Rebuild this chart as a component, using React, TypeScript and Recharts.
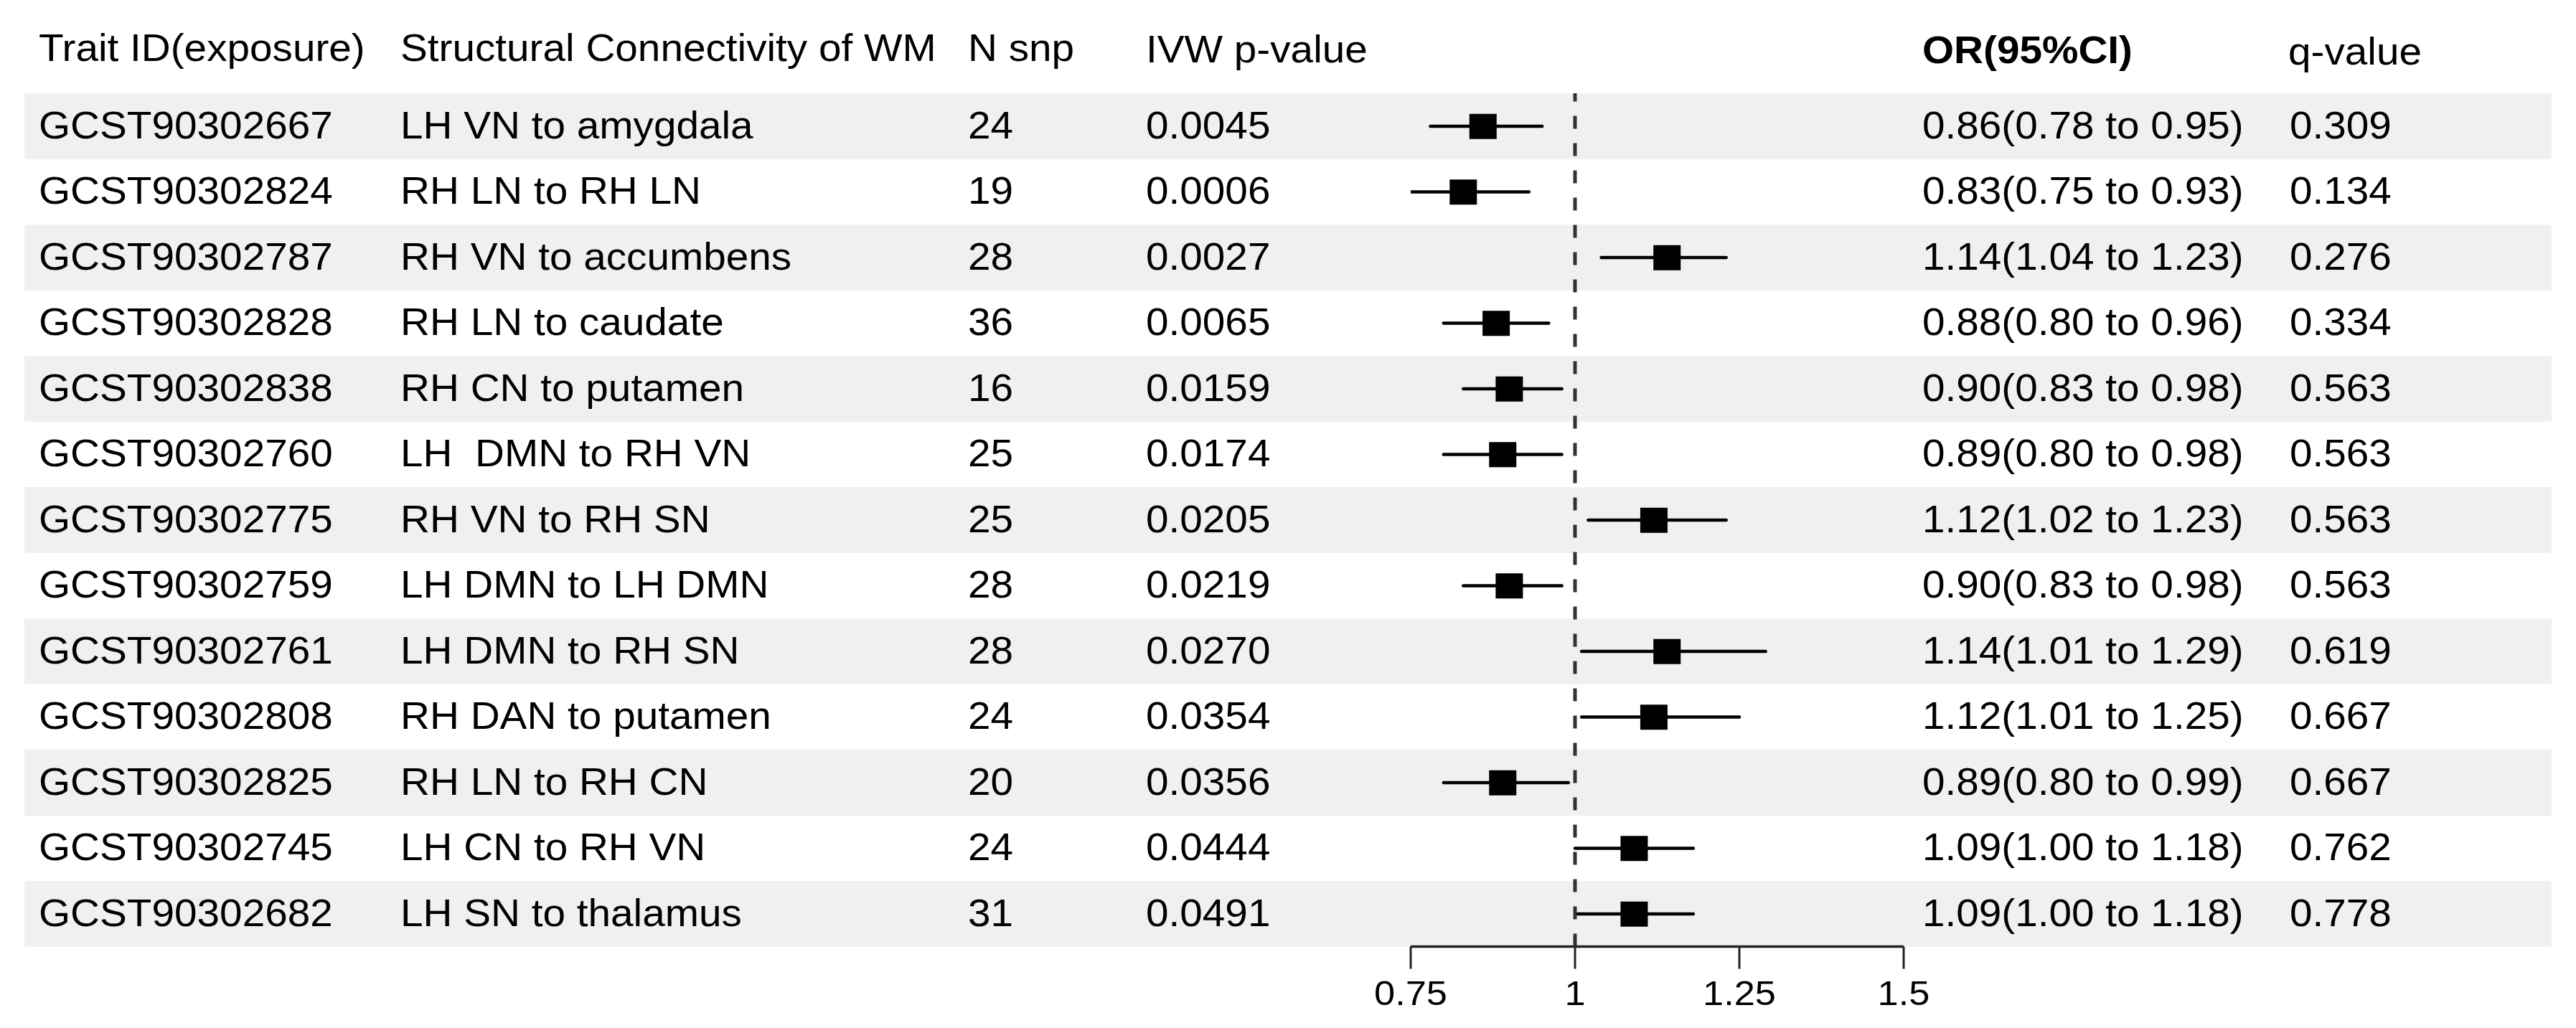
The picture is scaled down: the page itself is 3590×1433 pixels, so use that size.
import { ComposedChart, Bar, Scatter, XAxis, YAxis, ReferenceLine } from "recharts"

const traitIds = [
  "GCST90302667", "GCST90302824", "GCST90302787", "GCST90302828", "GCST90302838",
  "GCST90302760", "GCST90302775", "GCST90302759", "GCST90302761", "GCST90302808",
  "GCST90302825", "GCST90302745", "GCST90302682",
]
const connections = [
  "LH VN to amygdala", "RH LN to RH LN", "RH VN to accumbens", "RH LN to caudate",
  "RH CN to putamen", "LH  DMN to RH VN", "RH VN to RH SN", "LH DMN to LH DMN",
  "LH DMN to RH SN", "RH DAN to putamen", "RH LN to RH CN", "LH CN to RH VN",
  "LH SN to thalamus",
]
const nSnp = [24, 19, 28, 36, 16, 25, 25, 28, 28, 24, 20, 24, 31]
const ivwP = ["0.0045", "0.0006", "0.0027", "0.0065", "0.0159", "0.0174", "0.0205", "0.0219", "0.0270", "0.0354", "0.0356", "0.0444", "0.0491"]
const orValues = [0.86, 0.83, 1.14, 0.88, 0.9, 0.89, 1.12, 0.9, 1.14, 1.12, 0.89, 1.09, 1.09]
const ciLower = [0.78, 0.75, 1.04, 0.8, 0.83, 0.8, 1.02, 0.83, 1.01, 1.01, 0.8, 1.0, 1.0]
const ciUpper = [0.95, 0.93, 1.23, 0.96, 0.98, 0.98, 1.23, 0.98, 1.29, 1.25, 0.99, 1.18, 1.18]
const qValues = ["0.309", "0.134", "0.276", "0.334", "0.563", "0.563", "0.563", "0.563", "0.619", "0.667", "0.667", "0.762", "0.778"]
const xTicks = [0.75, 1, 1.25, 1.5]

const data = traitIds.map((id, i) => ({
  id,
  name: connections[i],
  n: nSnp[i],
  p: ivwP[i],
  or: orValues[i],
  ci: [ciLower[i], ciUpper[i]],
  q: qValues[i],
  label: `${orValues[i].toFixed(2)}(${ciLower[i].toFixed(2)} to ${ciUpper[i].toFixed(2)})`,
}))

// page layout
const W = 3590
const H = 1433
const PLOT_LEFT = 1966
const PLOT_RIGHT = 2653
const TOP = 130
const ROW_H = 91.5
const PLOT_BOTTOM = TOP + ROW_H * data.length
const Y_AXIS_W = 10
const SX = 1.07
const FONT = "'Liberation Sans', Arial, Helvetica, sans-serif"
const COL = { id: 54, name: 558, n: 1349, p: 1597, or: 2679, q: 3191 }

function Txt({ x, y, size = 53, bold = false, anchor = "start", children }: any) {
  return (
    <text
      transform={`translate(${x},${y}) scale(${SX},1)`}
      fontSize={size}
      fontWeight={bold ? 700 : 400}
      fontFamily={FONT}
      fill="#000"
      textAnchor={anchor}
      style={{ whiteSpace: "pre" }}
    >
      {children}
    </text>
  )
}

function RowTick({ y, payload }: any) {
  const d = data[payload.index]
  if (!d) return null
  const by = y + 17
  return (
    <g>
      <Txt x={COL.id} y={by}>{d.id}</Txt>
      <Txt x={COL.name} y={by}>{d.name}</Txt>
      <Txt x={COL.n} y={by}>{String(d.n)}</Txt>
      <Txt x={COL.p} y={by}>{d.p}</Txt>
      <Txt x={COL.or} y={by}>{d.label}</Txt>
      <Txt x={COL.q} y={by}>{d.q}</Txt>
    </g>
  )
}

function AxisTick({ x, y, payload }: any) {
  return (
    <Txt x={x} y={y + 50} size={49} anchor="middle">
      {String(payload.value)}
    </Txt>
  )
}

function RowBand(props: any) {
  if (props.index % 2 !== 0) return <g />
  return <rect x={34} y={props.y} width={3522} height={props.height} fill="#f0f0f0" />
}

function CiLine(props: any) {
  const { x, y, width, height } = props
  const cy = y + height / 2
  return <line x1={x} x2={x + width} y1={cy} y2={cy} stroke="#000" strokeWidth={4.5} strokeLinecap="round" />
}

function SquareMark(props: any) {
  const { cx, cy } = props
  return <rect x={cx - 19} y={cy - 17} width={38} height={35} fill="#000" />
}

export default function App() {
  return (
    <div style={{ position: "relative", width: W, height: H, background: "#fff" }}>
      <style>{"body{margin:0}"}</style>
      <ComposedChart
        width={W}
        height={H}
        data={data}
        layout="vertical"
        barCategoryGap={0}
        barGap={0}
        margin={{ top: TOP, right: W - PLOT_RIGHT, bottom: 0, left: PLOT_LEFT - Y_AXIS_W }}
      >
        <Bar dataKey="ci" shape={<CiLine />} background={RowBand} isAnimationActive={false} />
        <ReferenceLine x={1} stroke="#333" strokeWidth={5} strokeDasharray="18 20" />
        <Scatter dataKey="or" shape={<SquareMark />} isAnimationActive={false} />
        <XAxis
          type="number"
          domain={[0.75, 1.5]}
          ticks={xTicks}
          allowDataOverflow
          height={H - PLOT_BOTTOM}
          tickSize={31}
          tickMargin={0}
          stroke="#222"
          axisLine={{ stroke: "#222", strokeWidth: 3.5 }}
          tickLine={{ stroke: "#222", strokeWidth: 3 }}
          tick={<AxisTick />}
        />
        <YAxis
          type="category"
          dataKey="id"
          width={Y_AXIS_W}
          axisLine={false}
          tickLine={false}
          interval={0}
          tick={<RowTick />}
        />
      </ComposedChart>
      <svg width={W} height={TOP} style={{ position: "absolute", left: 0, top: 0, pointerEvents: "none" }}>
        <Txt x={COL.id} y={85}>Trait ID(exposure)</Txt>
        <Txt x={COL.name} y={85}>Structural Connectivity of WM</Txt>
        <Txt x={COL.n} y={85}>N snp</Txt>
        <Txt x={COL.p} y={87}>IVW p-value</Txt>
        <Txt x={COL.or} y={88} bold>OR(95%CI)</Txt>
        <Txt x={COL.q - 2} y={90}>q-value</Txt>
      </svg>
    </div>
  )
}
